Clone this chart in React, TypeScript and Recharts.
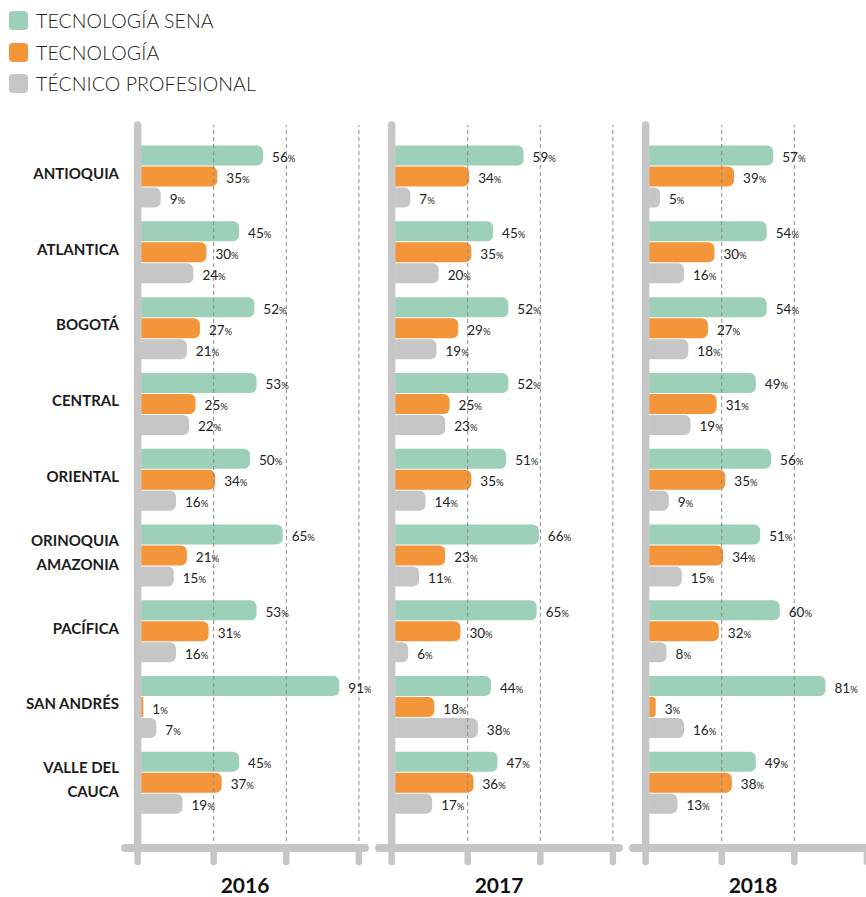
import { BarChart, Bar, XAxis, YAxis, ReferenceLine, LabelList } from 'recharts';

const regions = [
  'ANTIOQUIA',
  'ATLANTICA',
  'BOGOTÁ',
  'CENTRAL',
  'ORIENTAL',
  'ORINOQUIA\nAMAZONIA',
  'PACÍFICA',
  'SAN ANDRÉS',
  'VALLE DEL\nCAUCA',
];

const seriesNames = ['TECNOLOGÍA SENA', 'TECNOLOGÍA', 'TÉCNICO PROFESIONAL'];
const seriesKeys = ['sena', 'tecnologia', 'tecnico'];
const seriesColors = ['#9dd0b8', '#f4953a', '#c6c6c6'];

const years = ['2016', '2017', '2018'];

const sena2016 = [56, 45, 52, 53, 50, 65, 53, 91, 45];
const tecnologia2016 = [35, 30, 27, 25, 34, 21, 31, 1, 37];
const tecnico2016 = [9, 24, 21, 22, 16, 15, 16, 7, 19];

const sena2017 = [59, 45, 52, 52, 51, 66, 65, 44, 47];
const tecnologia2017 = [34, 35, 29, 25, 35, 23, 30, 18, 36];
const tecnico2017 = [7, 20, 19, 23, 14, 11, 6, 38, 17];

const sena2018 = [57, 54, 54, 49, 56, 51, 60, 81, 49];
const tecnologia2018 = [39, 30, 27, 31, 35, 34, 32, 3, 38];
const tecnico2018 = [5, 16, 18, 19, 9, 15, 8, 16, 13];

// axis line sits just left of zero, like the original
const axisPos = -1.6;
const gridTicks = [33.33, 66.67, 100];
const xTicks = [axisPos, ...gridTicks];

const font = 'Lato, "Open Sans", "Noto Sans", sans-serif';
const gray = '#c6c6c6';

const buildRows = (sena: number[], tec: number[], tecnico: number[]) =>
  regions.map((region, i) => ({ region, sena: sena[i], tecnologia: tec[i], tecnico: tecnico[i] }));

const panels = [
  { year: years[0], data: buildRows(sena2016, tecnologia2016, tecnico2016), plotLeft: 125 },
  { year: years[1], data: buildRows(sena2017, tecnologia2017, tecnico2017), plotLeft: 379 },
  { year: years[2], data: buildRows(sena2018, tecnologia2018, tecnico2018), plotLeft: 633 },
];

const PctLabel = (props: any) => {
  const vb = props.viewBox || props;
  const x = vb.x ?? props.x;
  const y = vb.y ?? props.y;
  const width = vb.width ?? props.width;
  const height = vb.height ?? props.height;
  return (
    <text x={x + width + 9} y={y + height / 2 + 6.5} fill="#222" fontFamily={font}>
      <tspan fontSize={13.5}>{props.value}</tspan>
      <tspan fontSize={9.5}>%</tspan>
    </text>
  );
};

const RegionTick = (props: any) => {
  const { x, y, payload } = props;
  const lines = String(payload.value).split('\n');
  const lineH = 23.5;
  const startY = y - 3 - ((lines.length - 1) * lineH) / 2;
  return (
    <text
      x={x}
      y={startY}
      textAnchor="end"
      dominantBaseline="central"
      fill="#1c1c1c"
      fontFamily={font}
      fontWeight={700}
      fontSize={15}
    >
      {lines.map((l, i) => (
        <tspan key={i} x={x} y={startY + i * lineH}>
          {l}
        </tspan>
      ))}
    </text>
  );
};

const NoTick = () => <g />;

function Panel({ year, data, plotLeft, showLabels }: any) {
  const marginLeft = showLabels ? 11 : 6;
  const yAxisWidth = showLabels ? 114 : 0;
  const left = plotLeft - marginLeft - yAxisWidth;
  const width = marginLeft + yAxisWidth + 240 + 6;
  return (
    <div style={{ position: 'absolute', left, top: 0 }}>
      <BarChart
        width={width}
        height={897}
        data={data}
        layout="vertical"
        margin={{ top: 125, right: 6, bottom: 0, left: marginLeft }}
        barCategoryGap="10%"
        barGap={1}
      >
        {gridTicks.map((t) => (
          <ReferenceLine key={t} x={t} stroke="#8c8c8c" strokeDasharray="4 3" strokeWidth={1} />
        ))}
        <XAxis
          type="number"
          domain={[-7.4, 102.8]}
          ticks={xTicks}
          tick={<NoTick />}
          tickSize={14}
          height={49}
          axisLine={{ stroke: gray, strokeWidth: 8, strokeLinecap: 'round' }}
          tickLine={{ stroke: gray, strokeWidth: 6.5, strokeLinecap: 'round' }}
          label={{
            value: year,
            position: 'insideBottom',
            offset: 4,
            fill: '#111',
            fontSize: 21,
            fontWeight: 700,
            fontFamily: font,
          }}
        />
        <YAxis
          type="category"
          dataKey="region"
          width={yAxisWidth}
          hide={!showLabels}
          axisLine={false}
          tickLine={false}
          tickSize={0}
          tickMargin={6}
          padding={{ top: 13, bottom: 28 }}
          interval={0}
          tick={<RegionTick />}
        />
        {seriesKeys.map((key, i) => (
          <Bar
            key={key}
            dataKey={key}
            name={seriesNames[i]}
            fill={seriesColors[i]}
            radius={[0, 6, 6, 0]}
            isAnimationActive={false}
          >
            <LabelList dataKey={key} content={<PctLabel />} />
          </Bar>
        ))}
        <ReferenceLine x={axisPos} stroke={gray} strokeWidth={7.5} strokeLinecap="round" />
      </BarChart>
    </div>
  );
}

export default function App() {
  return (
    <div
      style={{
        position: 'fixed',
        left: 0,
        top: 0,
        width: 866,
        height: 897,
        overflow: 'hidden',
        background: '#fff',
        fontFamily: font,
      }}
    >
      <div style={{ position: 'absolute', left: 9, top: 5 }}>
        {seriesNames.map((name, i) => (
          <div key={name} style={{ display: 'flex', alignItems: 'center', height: 31.5 }}>
            <div
              style={{
                width: 19,
                height: 19,
                borderRadius: 4,
                background: seriesColors[i],
                marginRight: 8,
              }}
            />
            <span style={{ fontSize: 19.5, fontWeight: 300, color: '#222', letterSpacing: 0.1 }}>{name}</span>
          </div>
        ))}
      </div>
      {panels.map((p, i) => (
        <Panel key={p.year} year={p.year} data={p.data} plotLeft={p.plotLeft} showLabels={i === 0} />
      ))}
    </div>
  );
}
